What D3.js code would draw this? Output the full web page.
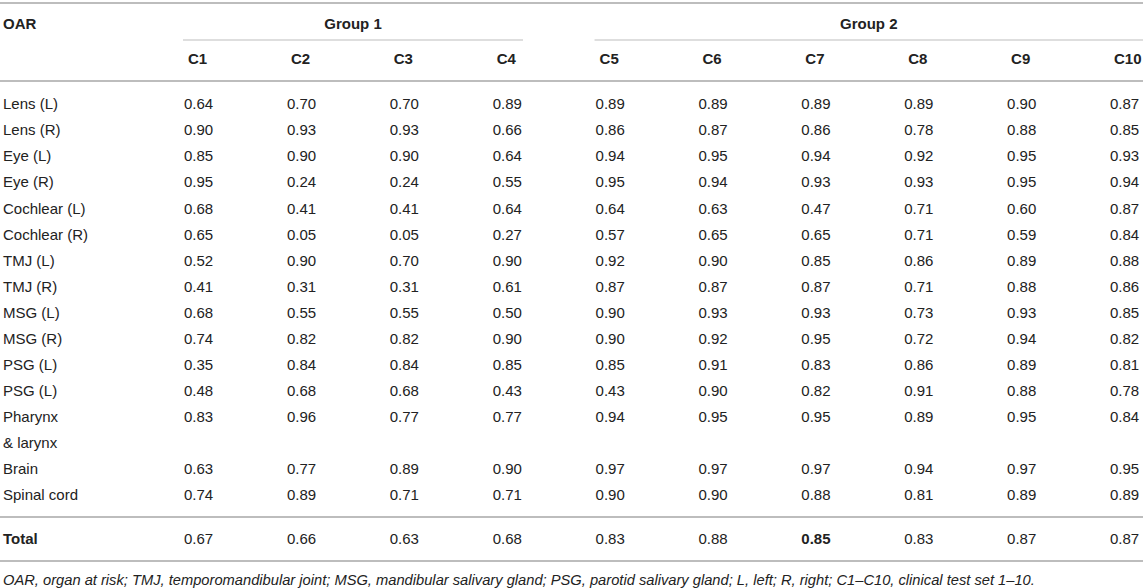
<!DOCTYPE html>
<html>
<head>
<meta charset="utf-8">
<script src="https://cdn.jsdelivr.net/npm/d3@7"></script>
<style>
  html, body { margin: 0; padding: 0; background: #fff; }
  svg { display: block; font-family: "Liberation Sans", Arial, Helvetica, sans-serif; }
</style>
</head>
<body>
<div id="chart"></div>
<script>
// Table data:
var groups = ["Group 1", "Group 2"];
var cases = ["C1", "C2", "C3", "C4", "C5", "C6", "C7", "C8", "C9", "C10"];
var groupCases = [["C1", "C4"], ["C5", "C10"]];
var oar = ["Lens (L)", "Lens (R)", "Eye (L)", "Eye (R)", "Cochlear (L)", "Cochlear (R)",
  "TMJ (L)", "TMJ (R)", "MSG (L)", "MSG (R)", "PSG (L)", "PSG (L)",
  "Pharynx\n& larynx", "Brain", "Spinal cord"];
var dice = [
  ["0.64", "0.70", "0.70", "0.89", "0.89", "0.89", "0.89", "0.89", "0.90", "0.87"],
  ["0.90", "0.93", "0.93", "0.66", "0.86", "0.87", "0.86", "0.78", "0.88", "0.85"],
  ["0.85", "0.90", "0.90", "0.64", "0.94", "0.95", "0.94", "0.92", "0.95", "0.93"],
  ["0.95", "0.24", "0.24", "0.55", "0.95", "0.94", "0.93", "0.93", "0.95", "0.94"],
  ["0.68", "0.41", "0.41", "0.64", "0.64", "0.63", "0.47", "0.71", "0.60", "0.87"],
  ["0.65", "0.05", "0.05", "0.27", "0.57", "0.65", "0.65", "0.71", "0.59", "0.84"],
  ["0.52", "0.90", "0.70", "0.90", "0.92", "0.90", "0.85", "0.86", "0.89", "0.88"],
  ["0.41", "0.31", "0.31", "0.61", "0.87", "0.87", "0.87", "0.71", "0.88", "0.86"],
  ["0.68", "0.55", "0.55", "0.50", "0.90", "0.93", "0.93", "0.73", "0.93", "0.85"],
  ["0.74", "0.82", "0.82", "0.90", "0.90", "0.92", "0.95", "0.72", "0.94", "0.82"],
  ["0.35", "0.84", "0.84", "0.85", "0.85", "0.91", "0.83", "0.86", "0.89", "0.81"],
  ["0.48", "0.68", "0.68", "0.43", "0.43", "0.90", "0.82", "0.91", "0.88", "0.78"],
  ["0.83", "0.96", "0.77", "0.77", "0.94", "0.95", "0.95", "0.89", "0.95", "0.84"],
  ["0.63", "0.77", "0.89", "0.90", "0.97", "0.97", "0.97", "0.94", "0.97", "0.95"],
  ["0.74", "0.89", "0.71", "0.71", "0.90", "0.90", "0.88", "0.81", "0.89", "0.89"]
];
var totals = ["0.67", "0.66", "0.63", "0.68", "0.83", "0.88", "0.85", "0.83", "0.87", "0.87"];
var bestTotal = "C7";
var footnote = "OAR, organ at risk; TMJ, temporomandibular joint; MSG, mandibular salivary gland; PSG, parotid salivary gland; L, left; R, right; C1\u2013C10, clinical test set 1\u201310.";

var width = 1143, height = 588;
var ink = "#222", rule = "#bdbdbd", fs = 15;

var svg = d3.select("#chart")
  .append("svg")
  .attr("width", width)
  .attr("height", height);

// Column positions (left edge of each value) and text line positions
var x = d3.scalePoint().domain(cases).range([184, 1110]);
var y = d3.scaleLinear().domain([0, 15]).range([104, 495]);

// Row i sits on text line i, except rows after the two-line "Pharynx & larynx"
var lineOf = function(i) { return i > 12 ? i + 1 : i; };

var hline = function(x1, x2, yy, w) {
  svg.append("line")
    .attr("x1", x1).attr("x2", x2)
    .attr("y1", yy).attr("y2", yy)
    .attr("stroke", rule)
    .attr("stroke-width", w);
};

// Rules
hline(0, width, 3, 2);
hline(0, width, 81, 2);
hline(0, width, 517, 2);
hline(0, width, 561, 2);
groupCases.forEach(function(g, i) {
  var x1 = x(g[0]) - 1;
  var x2 = i === 0 ? 523 : width;
  hline(x1, x2, 40, 1.2);
  svg.append("text")
    .attr("x", (x1 + x2) / 2)
    .attr("y", 24)
    .attr("dy", "0.35em")
    .attr("text-anchor", "middle")
    .style("font-size", fs + "px")
    .style("font-weight", "bold")
    .attr("fill", ink)
    .text(groups[i]);
});

// Header
svg.append("text")
  .attr("x", 3).attr("y", 24).attr("dy", "0.35em")
  .style("font-size", fs + "px")
  .style("font-weight", "bold")
  .attr("fill", ink)
  .text("OAR");

svg.selectAll(".colhead")
  .data(cases)
  .enter()
  .append("text")
  .attr("class", "colhead")
  .attr("x", function(d) { return x(d) + 4; })
  .attr("y", 59)
  .attr("dy", "0.35em")
  .style("font-size", fs + "px")
  .style("font-weight", "bold")
  .attr("fill", ink)
  .text(function(d) { return d; });

// Row labels (the two-line one gets a second tspan one text line lower)
var labels = svg.selectAll(".oar")
  .data(oar)
  .enter()
  .append("text")
  .attr("class", "oar")
  .attr("x", 3)
  .attr("y", function(d, i) { return y(lineOf(i)); })
  .style("font-size", fs + "px")
  .attr("fill", ink);

labels.selectAll("tspan")
  .data(function(d) { return d.split("\n"); })
  .enter()
  .append("tspan")
  .attr("x", 3)
  .attr("dy", function(d, j) { return j === 0 ? (0.35 * fs) : (y(1) - y(0)); })
  .text(function(d) { return d; });

// Values
var rows = svg.selectAll(".row")
  .data(dice)
  .enter()
  .append("g")
  .attr("class", "row")
  .attr("transform", function(d, i) { return "translate(0," + y(lineOf(i)) + ")"; });

rows.selectAll("text")
  .data(function(d) { return d; })
  .enter()
  .append("text")
  .attr("x", function(d, j) { return x(cases[j]); })
  .attr("dy", "0.35em")
  .style("font-size", fs + "px")
  .attr("fill", ink)
  .text(function(d) { return d; });

// Total row
svg.append("text")
  .attr("x", 3).attr("y", 539).attr("dy", "0.35em")
  .style("font-size", fs + "px")
  .style("font-weight", "bold")
  .attr("fill", ink)
  .text("Total");

svg.selectAll(".total")
  .data(totals)
  .enter()
  .append("text")
  .attr("class", "total")
  .attr("x", function(d, j) { return x(cases[j]); })
  .attr("y", 539)
  .attr("dy", "0.35em")
  .style("font-size", fs + "px")
  .style("font-weight", function(d, j) { return cases[j] === bestTotal ? "bold" : "normal"; })
  .attr("fill", ink)
  .text(function(d) { return d; });

// Footnote
svg.append("text")
  .attr("x", 3).attr("y", 580).attr("dy", "0.35em")
  .style("font-size", "14.7px")
  .style("font-style", "italic")
  .attr("fill", ink)
  .text(footnote);
</script>
</body>
</html>
